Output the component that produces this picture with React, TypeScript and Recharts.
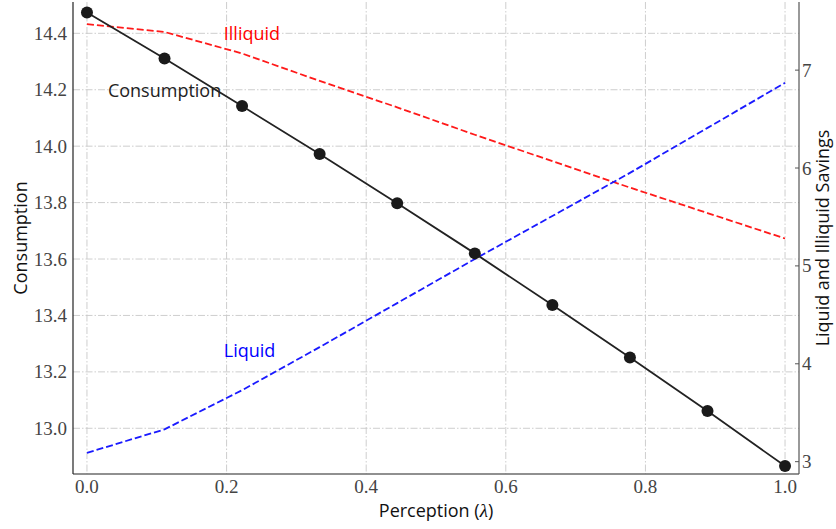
import React from 'react';
import { LineChart, Line, XAxis, YAxis, CartesianGrid, ReferenceDot } from 'recharts';

// Perception parameter grid (λ)
const lambdaValues = [0, 0.1111, 0.2222, 0.3333, 0.4444, 0.5556, 0.6667, 0.7778, 0.8889, 1.0];
// Consumption (left axis)
const consumption = [14.474, 14.311, 14.142, 13.972, 13.798, 13.62, 13.437, 13.251, 13.061, 12.866];
// Savings (right axis)
const liquidSavings = [3.09, 3.33, 3.73, 4.17, 4.62, 5.07, 5.51, 5.95, 6.41, 6.87];
const illiquidSavings = [7.47, 7.39, 7.17, 6.89, 6.62, 6.34, 6.07, 5.8, 5.54, 5.28];

const xTicks = [0, 0.2, 0.4, 0.6, 0.8, 1.0];
const leftTicks = [13.0, 13.2, 13.4, 13.6, 13.8, 14.0, 14.2, 14.4];
const rightTicks = [3, 4, 5, 6, 7];

const rows = lambdaValues.map((l, i) => ({
  lambda: l,
  consumption: consumption[i],
  liquid: liquidSavings[i],
  illiquid: illiquidSavings[i],
}));

const SERIF = "'Liberation Serif', 'DejaVu Serif', serif";
const SANS = "'Open Sans', 'DejaVu Sans', sans-serif";
const TICK_COLOR = '#444';
const serifStyle = { fontFamily: SERIF, fontSize: 19 };
const sansStyle = { fontFamily: SANS, fontSize: 18 };

const XTick = (props: any) => (
  <text x={props.x} y={493} textAnchor="middle" fill={TICK_COLOR} style={serifStyle}>
    {Number(props.payload.value).toFixed(1)}
  </text>
);

const LeftTick = (props: any) => (
  <text
    x={67}
    y={props.y}
    textAnchor="end"
    dominantBaseline="central"
    fill={TICK_COLOR}
    style={serifStyle}
  >
    {Number(props.payload.value).toFixed(1)}
  </text>
);

const RightTick = (props: any) => (
  <g>
    <line x1={795} x2={799} y1={props.y} y2={props.y} stroke="#555" strokeWidth={1} />
    <text
      x={802}
      y={props.y}
      textAnchor="start"
      dominantBaseline="central"
      fill={TICK_COLOR}
      style={serifStyle}
    >
      {String(props.payload.value)}
    </text>
  </g>
);

const annotation = (text: string, color: string) => (props: any) => {
  const vb = props.viewBox || {};
  return (
    <text
      x={vb.x}
      y={vb.y}
      fill={color}
      style={sansStyle}
      textAnchor="start"
      dominantBaseline="central"
    >
      {text}
    </text>
  );
};

const leftTitle = (props: any) => {
  const vb = props.viewBox || {};
  const x = 20;
  const y = vb.y + vb.height / 2;
  return (
    <text
      x={x}
      y={y}
      transform={`rotate(-90, ${x}, ${y})`}
      textAnchor="middle"
      dominantBaseline="central"
      fill="#111"
      style={sansStyle}
    >
      Consumption
    </text>
  );
};

const rightTitle = (props: any) => {
  const vb = props.viewBox || {};
  const x = 822;
  const y = vb.y + vb.height / 2;
  return (
    <text
      x={x}
      y={y}
      transform={`rotate(-90, ${x}, ${y})`}
      textAnchor="middle"
      dominantBaseline="central"
      fill="#111"
      style={sansStyle}
    >
      Liquid and Illiquid Savings
    </text>
  );
};

const bottomTitle = (props: any) => {
  const vb = props.viewBox || {};
  const x = vb.x + vb.width / 2;
  const y = 517;
  return (
    <text x={x} y={y} textAnchor="middle" fill="#111" style={sansStyle}>
      Perception (
      <tspan style={{ fontFamily: SERIF, fontStyle: 'italic', fontSize: 19 }}>λ</tspan>)
    </text>
  );
};

export default function App() {
  return (
    <div style={{ position: 'absolute', left: 0, top: 0, width: 836, height: 529, background: '#fff' }}>
      <LineChart
        width={836}
        height={529}
        data={rows}
        margin={{ top: 2, right: 7, bottom: 25, left: 13 }}
      >
        <CartesianGrid
          yAxisId="left"
          stroke="#c8c8c8"
          strokeWidth={0.9}
          strokeDasharray="7 2 1.5 2"
          horizontalValues={leftTicks}
          verticalValues={xTicks}
        />
        <XAxis
          dataKey="lambda"
          type="number"
          domain={[-0.02, 1.02]}
          ticks={xTicks}
          tick={<XTick />}
          tickLine={false}
          axisLine={{ stroke: '#222', strokeWidth: 1.2 }}
          height={30}
          allowDataOverflow
          label={{ content: bottomTitle }}
        />
        <YAxis
          yAxisId="left"
          type="number"
          domain={[12.838, 14.511]}
          ticks={leftTicks}
          tick={<LeftTick />}
          tickLine={false}
          axisLine={{ stroke: '#222', strokeWidth: 1.2 }}
          width={60}
          allowDataOverflow
          label={{ content: leftTitle }}
        />
        <YAxis
          yAxisId="right"
          orientation="right"
          type="number"
          domain={[2.874, 7.696]}
          ticks={rightTicks}
          tick={<RightTick />}
          tickLine={false}
          axisLine={{ stroke: '#555', strokeWidth: 1.2 }}
          width={30}
          allowDataOverflow
          label={{ content: rightTitle }}
        />
        <Line
          yAxisId="right"
          dataKey="illiquid"
          stroke="#ff1a1a"
          strokeWidth={1.8}
          strokeDasharray="7 3"
          dot={false}
          isAnimationActive={false}
        />
        <Line
          yAxisId="right"
          dataKey="liquid"
          stroke="#1a1aff"
          strokeWidth={1.8}
          strokeDasharray="7 3"
          dot={false}
          isAnimationActive={false}
        />
        <Line
          yAxisId="left"
          dataKey="consumption"
          stroke="#222"
          strokeWidth={1.8}
          dot={{ r: 6, fill: '#1a1a1a', stroke: '#1a1a1a', strokeWidth: 0 }}
          isAnimationActive={false}
        />
        <ReferenceDot yAxisId="left" x={0.03} y={14.2} r={0} label={{ content: annotation('Consumption', '#222') }} />
        <ReferenceDot yAxisId="left" x={0.196} y={14.4} r={0} label={{ content: annotation('Illiquid', '#ff0000') }} />
        <ReferenceDot yAxisId="left" x={0.196} y={13.277} r={0} label={{ content: annotation('Liquid', '#0000ff') }} />
      </LineChart>
    </div>
  );
}
